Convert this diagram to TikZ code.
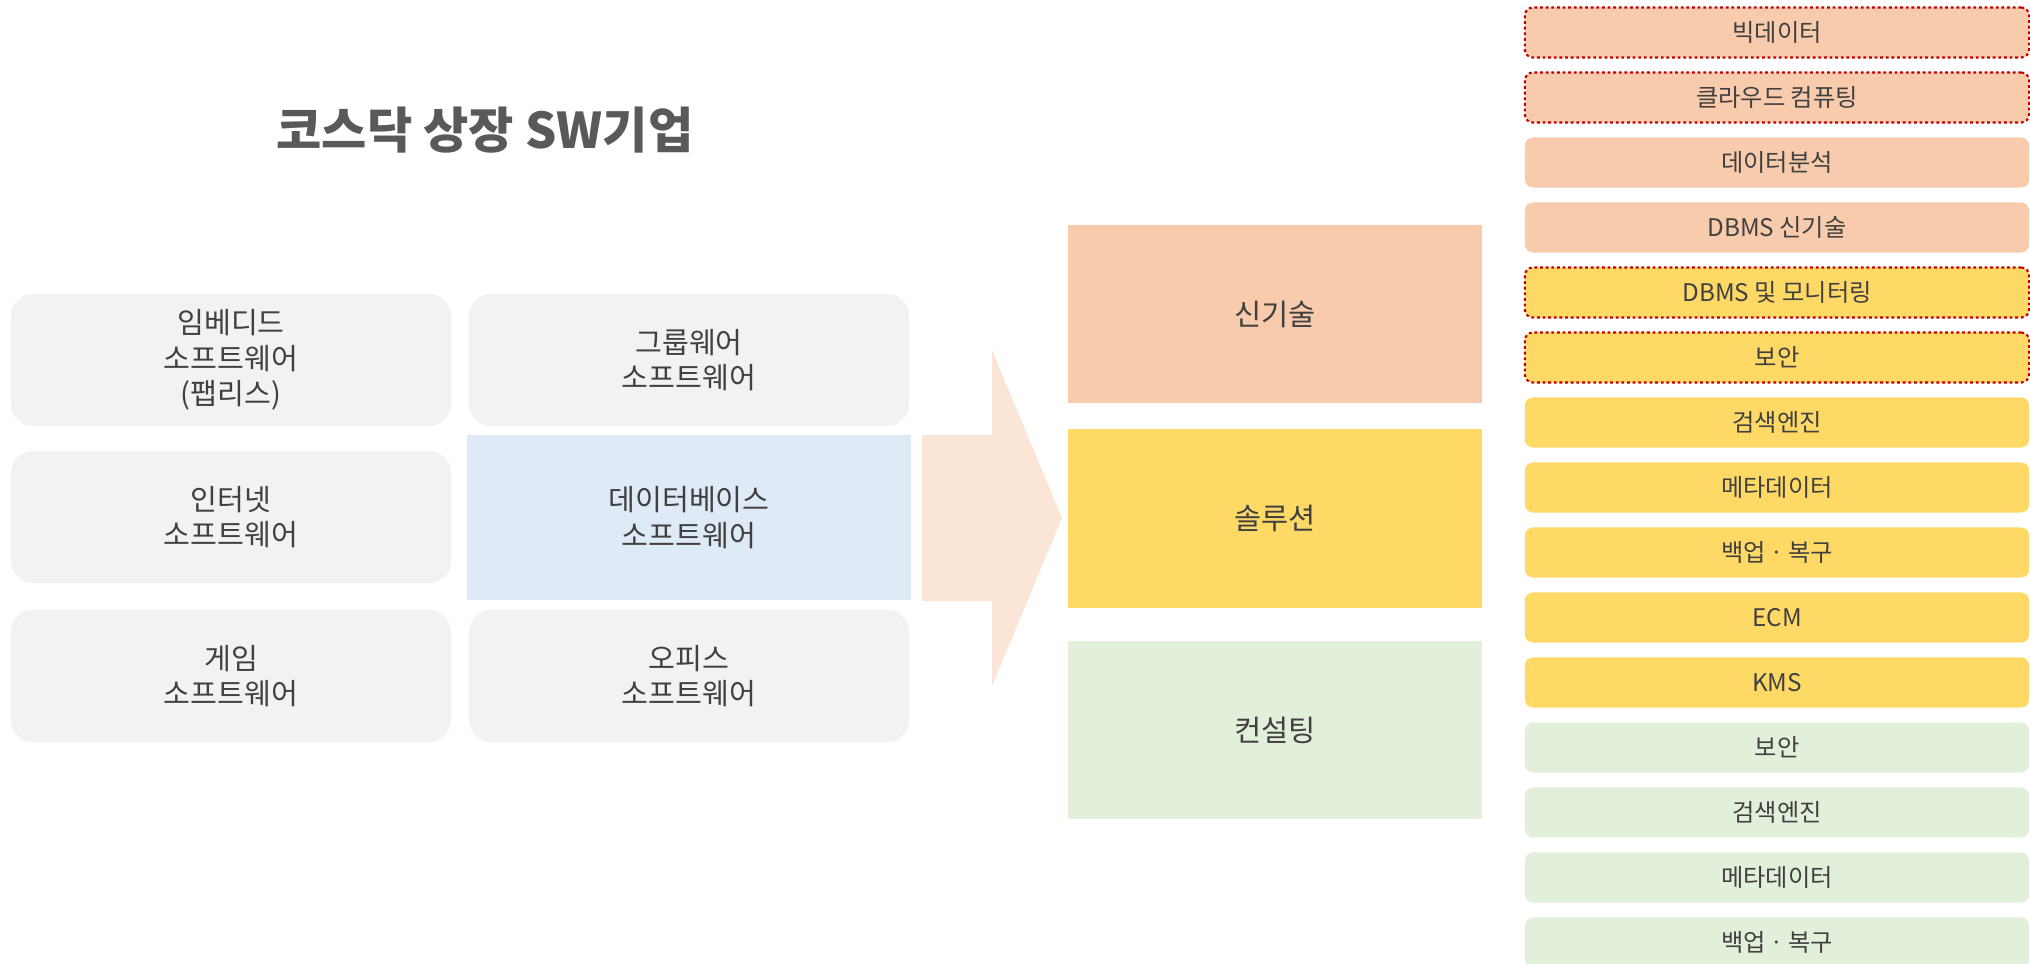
\documentclass[tikz,border=0pt]{standalone}
\usepackage{fontspec}
\setmainfont{Noto Sans CJK KR}
\usetikzlibrary{positioning}
\definecolor{txtgray}{HTML}{404040}
\definecolor{titlegray}{HTML}{595959}
\definecolor{boxgray}{HTML}{F2F2F2}
\definecolor{dbblue}{HTML}{DEEAF6}
\definecolor{arrowpeach}{HTML}{FBE5D6}
\definecolor{techorange}{HTML}{F8CBAD}
\definecolor{solyellow}{HTML}{FFD966}
\definecolor{congreen}{HTML}{E2EFDA}
\definecolor{dotred}{HTML}{C00000}

\tikzset{
  swbox/.style={fill=boxgray, rounded corners=0.22cm, minimum width=4.4cm, minimum height=1.32cm,
    align=center, text=txtgray, inner sep=0pt, font=\fontsize{8.3}{10.1}\selectfont},
  catbox/.style={minimum width=4.14cm, minimum height=1.78cm, inner sep=0pt,
    text=txtgray, font=\fontsize{8.4}{10}\selectfont},
  itembox/.style={rounded corners=0.08cm, minimum width=5.04cm, minimum height=0.5cm, inner sep=0pt,
    text=txtgray, font=\fontsize{6.9}{8}\selectfont},
  hotitem/.style={draw=dotred, line width=0.6pt, dash pattern=on 0.8pt off 0.8pt},
}

\begin{document}
\begin{tikzpicture}[x=0.01cm, y=-0.01cm]
\useasboundingbox (0,0) rectangle (2030,964);
\clip (0,0) rectangle (2030,964);

% title
\node[text=titlegray, font=\fontsize{14}{16}\selectfont\bfseries] (title) at (485,130) {코스닥 상장 SW기업};

% software grid
\node[swbox] (embedded) at (231,360) {임베디드\\소프트웨어\\(팹리스)};
\node[swbox] (groupware) at (689,360) {그룹웨어\\소프트웨어};
\node[swbox] (internet) at (231,517) {인터넷\\소프트웨어};
\node[swbox, fill=dbblue, rounded corners=0pt, minimum width=4.44cm, minimum height=1.65cm] (database) at (689,517.5) {데이터베이스\\소프트웨어};
\node[swbox] (game) at (231,676) {게임\\소프트웨어};
\node[swbox] (office) at (689,676) {오피스\\소프트웨어};

% big arrow
\fill[arrowpeach] (922,435) -- (992,435) -- (992,350) -- (1062,518) -- (992,686) -- (992,601) -- (922,601) -- cycle;

% categories
\node[catbox, fill=techorange] (newtech) at (1275,314) {신기술};
\node[catbox, fill=solyellow] (solution) at (1275,518.5) {솔루션};
\node[catbox, fill=congreen] (consult) at (1275,730) {컨설팅};

% item list
\node[itembox, fill=techorange, hotitem] (bigdata) at (1777,32.5) {빅데이터};
\node[itembox, fill=techorange, hotitem] (cloud) at (1777,97.5) {클라우드 컴퓨팅};
\node[itembox, fill=techorange] (analysis) at (1777,162.5) {데이터분석};
\node[itembox, fill=techorange] (dbmsnew) at (1777,227.5) {DBMS 신기술};
\node[itembox, fill=solyellow, hotitem] (dbmsmon) at (1777,292.5) {DBMS 및 모니터링};
\node[itembox, fill=solyellow, hotitem] (security) at (1777,357.5) {보안};
\node[itembox, fill=solyellow] (search) at (1777,422.5) {검색엔진};
\node[itembox, fill=solyellow] (meta) at (1777,487.5) {메타데이터};
\node[itembox, fill=solyellow] (backup) at (1777,552.5) {백업ㆍ복구};
\node[itembox, fill=solyellow] (ecm) at (1777,617.5) {ECM};
\node[itembox, fill=solyellow] (kms) at (1777,682.5) {KMS};
\node[itembox, fill=congreen] (csecurity) at (1777,747.5) {보안};
\node[itembox, fill=congreen] (csearch) at (1777,812.5) {검색엔진};
\node[itembox, fill=congreen] (cmeta) at (1777,877.5) {메타데이터};
\node[itembox, fill=congreen] (cbackup) at (1777,942.5) {백업ㆍ복구};
\end{tikzpicture}
\end{document}
